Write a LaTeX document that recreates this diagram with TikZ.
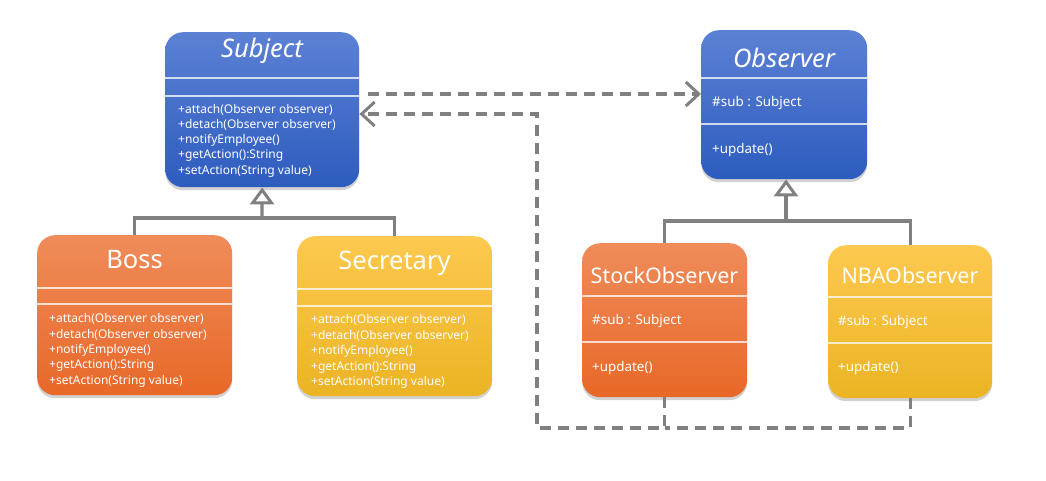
\documentclass[tikz,border=0pt]{standalone}
\usepackage{fontspec}
\setmainfont{Noto Sans}
\usetikzlibrary{arrows.meta,shadows}
\definecolor{bluetop}{HTML}{5C81D4}
\definecolor{bluebot}{HTML}{2D5CBF}
\definecolor{orgtop}{HTML}{EF8C5A}
\definecolor{orgbot}{HTML}{E86828}
\definecolor{yeltop}{HTML}{FDC94F}
\definecolor{yelbot}{HTML}{EBB424}
\definecolor{linegray}{HTML}{808080}
\begin{document}
\begin{tikzpicture}[x=1pt,y=-1pt,
  cls/.style={rectangle, rounded corners=18pt, inner sep=0pt, anchor=north west,
    drop shadow={shadow xshift=0pt, shadow yshift=-3pt, opacity=0.3, fill=black!60}},
  bluebox/.style={cls, top color=bluetop, bottom color=bluebot},
  orgbox/.style={cls, top color=orgtop, bottom color=orgbot},
  yelbox/.style={cls, top color=yeltop, bottom color=yelbot},
  sepline/.style={draw=white, draw opacity=0.75, line width=1.2pt},
  ttl/.style={text=white, inner sep=0pt, font=\fontsize{25.5}{30}\selectfont},
  ttlsm/.style={text=white, inner sep=0pt, font=\fontsize{21.5}{26}\selectfont},
  mth/.style={text=white, inner sep=0pt, anchor=west, font=\fontsize{12}{14}\selectfont},
  mbr/.style={text=white, inner sep=0pt, anchor=west, font=\fontsize{13.4}{16}\selectfont},
  genline/.style={draw=linegray, line width=3.2pt},
  depline/.style={draw=linegray, line width=3.2pt, dash pattern=on 11pt off 7pt},
  gentip/.style={-{Triangle[open, length=17pt, width=24pt, line width=3pt, fill=white]}},
  deptip/.style={-{Straight Barb[length=13pt, width=24pt, line width=3pt]}}
]
\useasboundingbox (0,0) rectangle (1046,481);

% ---------- Subject ----------
\node[bluebox, minimum width=194pt, minimum height=155pt] (subject) at (165,32) {};
\draw[sepline] (165,78) -- (359,78);
\draw[sepline] (165,96) -- (359,96);
\node[ttl] (subjectT) at (262,51) {\itshape Subject};
\foreach \t [count=\i] in {+attach(Observer observer),+detach(Observer observer),+notifyEmployee(),+getAction():String,+setAction(String value)}
  \node[mth] (subjectM\i) at (178,{110+15.25*(\i-1)}) {\t};

% ---------- Boss ----------
\node[orgbox, minimum width=195pt, minimum height=160pt] (boss) at (37,235) {};
\draw[sepline] (37,288) -- (232,288);
\draw[sepline] (37,304) -- (232,304);
\node[ttl] (bossT) at (134.5,260) {Boss};
\foreach \t [count=\i] in {+attach(Observer observer),+detach(Observer observer),+notifyEmployee(),+getAction():String,+setAction(String value)}
  \node[mth] (bossM\i) at (49,{319+15.5*(\i-1)}) {\t};

% ---------- Secretary ----------
\node[yelbox, minimum width=195pt, minimum height=160pt] (secretary) at (297,236) {};
\draw[sepline] (297,289) -- (492,289);
\draw[sepline] (297,306) -- (492,306);
\node[ttl] (secretaryT) at (394.5,263) {Secretary};
\foreach \t [count=\i] in {+attach(Observer observer),+detach(Observer observer),+notifyEmployee(),+getAction():String,+setAction(String value)}
  \node[mth] (secretaryM\i) at (311,{320+15.7*(\i-1)}) {\t};

% ---------- Observer ----------
\node[bluebox, minimum width=166pt, minimum height=149pt] (observer) at (701,30) {};
\draw[sepline] (701,78) -- (867,78);
\draw[sepline] (701,124) -- (867,124);
\node[ttl] (observerT) at (784,58) {\itshape Observer};
\node[mbr] (observerA) at (712,103) {\#sub : Subject};
\node[mbr] (observerM) at (712,150) {+update()};

% ---------- StockObserver ----------
\node[orgbox, minimum width=165pt, minimum height=154pt] (stock) at (582,243) {};
\draw[sepline] (582,296) -- (747,296);
\draw[sepline] (582,342) -- (747,342);
\node[ttlsm] (stockT) at (664.5,275) {StockObserver};
\node[mbr] (stockA) at (592,321) {\#sub : Subject};
\node[mbr] (stockM) at (592,368) {+update()};

% ---------- NBAObserver ----------
\node[yelbox, minimum width=164pt, minimum height=153pt] (nba) at (828,245) {};
\draw[sepline] (828,297) -- (992,297);
\draw[sepline] (828,343) -- (992,343);
\node[ttlsm] (nbaT) at (910,275) {NBAObserver};
\node[mbr] (nbaA) at (838,322) {\#sub : Subject};
\node[mbr] (nbaM) at (838,368) {+update()};

% ---------- generalisation ----------
\coordinate (sj) at (262,218);
\draw[genline] (boss.north) -- (boss.north |- sj) -- (secretary.north |- sj) -- (secretary.north);
\draw[genline, gentip] (sj) -- (subject.south);

\coordinate (oj) at (786,221);
\draw[genline] (stock.north) -- (stock.north |- oj) -- (nba.north |- oj) -- (nba.north);
\draw[genline, gentip] (oj) -- (observer.south -| oj);

% ---------- dependencies ----------
\coordinate (d1s) at (368,94);
\draw[depline, deptip] (d1s) -- (d1s -| observer.west);

\coordinate (dbot) at (537,428);
\coordinate (dup) at (537,114);
\draw[depline, deptip] (stock.south) -- (stock.south |- dbot) -- (dbot) -- (dup) -- (dup -| subject.east);
\draw[depline] (nba.south) -- (nba.south |- dbot) -- (stock.south |- dbot);
\end{tikzpicture}
\end{document}
